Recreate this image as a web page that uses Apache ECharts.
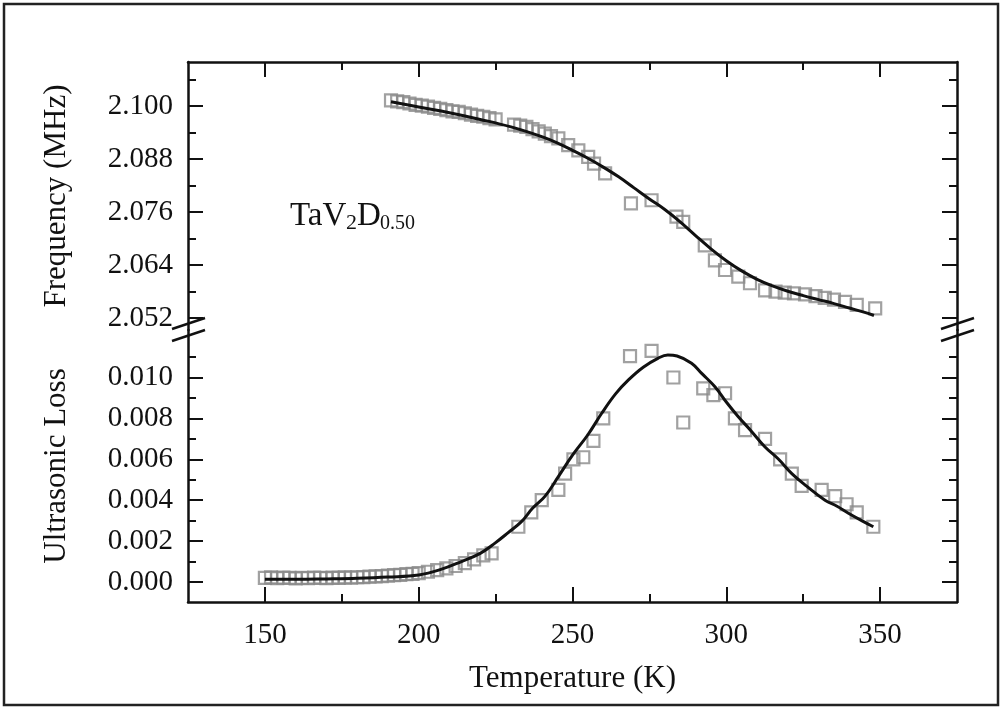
<!DOCTYPE html>
<html><head><meta charset="utf-8">
<script src="https://cdn.jsdelivr.net/npm/echarts@6/dist/echarts.min.js"></script>
<style>html,body{margin:0;padding:0;background:#fff}#c{width:1003px;height:709px}</style>
</head><body><div id="c"></div>
<script>
// ---- axis ticks ----
const xTicks = [150, 200, 250, 300, 350];
const xMinorTicks = [175, 225, 275, 325];
const freqTicks = [2.052, 2.064, 2.076, 2.088, 2.100];
const freqMinorTicks = [2.058, 2.070, 2.082, 2.094, 2.106];
const lossTicks = [0, 0.002, 0.004, 0.006, 0.008, 0.010];
const lossMinorTicks = [0.001, 0.003, 0.005, 0.007, 0.009, 0.011];

// ---- frequency data (squares) ----
const freqTemps = [191,193,195,197,199,201,203,205,207,209,211,213,215,217,219,221,223,225,231,233,235,237,239,241,243,245.4,248.6,251.9,255.1,257,260.6,269,275.7,283.8,286,293,296.3,299.6,303.9,307.7,312.6,316,319,322,325.6,329,332,335,338.6,342.4,348.4];
const freqValues = [2.1013,2.1011,2.1009,2.1006,2.1003,2.1001,2.0999,2.0996,2.0994,2.0991,2.0988,2.0987,2.0984,2.0981,2.0978,2.0976,2.0973,2.0970,2.0958,2.0956,2.0953,2.0948,2.0943,2.0938,2.0932,2.0927,2.0912,2.0900,2.0885,2.0870,2.0848,2.0780,2.0787,2.0750,2.0738,2.0685,2.0651,2.0629,2.0614,2.0599,2.0583,2.0580,2.0578,2.0576,2.0574,2.0570,2.0566,2.0562,2.0557,2.0550,2.0542];
// ---- frequency fit curve ----
const freqFitTemps = [191,200,210,220,230,240,245,250,255,260,265,270,275,280,285,290,295,300,305,310,315,320,325,330,335,340,345,348];
const freqFitValues = [2.1010,2.0998,2.0985,2.0970,2.0953,2.0931,2.0917,2.0900,2.0882,2.0862,2.0840,2.0815,2.0790,2.0766,2.0738,2.0707,2.0677,2.0650,2.0627,2.0608,2.0593,2.0581,2.0571,2.0562,2.0553,2.0543,2.0533,2.0526];

// ---- ultrasonic loss data (squares) ----
const lossTemps = [150,152,154,156,158,160,162,164,166,168,170,172,174,176,178,180,182,184,186,188,190,192,194,196,198,200,203,206,209,212,215,218,221,223.7,232.4,236.6,240,245.4,247.6,250.3,253.5,256.8,260,268.7,275.7,282.8,286,292.5,295.8,299.6,302.8,306.1,312.6,317.5,321.3,324.5,331,335.4,339.1,342.4,347.8];
const lossValues = [0.00020,0.00022,0.00019,0.00021,0.00020,0.00018,0.00020,0.00019,0.00021,0.00020,0.00019,0.00021,0.00020,0.00022,0.00021,0.00023,0.00024,0.00026,0.00027,0.00029,0.00031,0.00033,0.00035,0.00038,0.00040,0.00043,0.00050,0.00058,0.00066,0.00078,0.00092,0.0011,0.0013,0.0014,0.0027,0.0034,0.0040,0.0045,0.0053,0.0060,0.0061,0.0069,0.0080,0.01105,0.0113,0.0100,0.0078,0.00947,0.00914,0.00923,0.0080,0.00743,0.0070,0.0060,0.0053,0.0047,0.0045,0.0042,0.0038,0.0034,0.0027];
// ---- loss fit curve ----
const lossFitTemps = [150,160,170,180,190,200,207,213.9,220,224.8,229,233.4,237,241.1,245.4,250,255,259.5,264,268.2,273,277.9,281,284,288.7,292,296.3,300,303.9,308,312.6,317,321.3,326,332.1,336,339.7,344,347.8];
const lossFitValues = [0.00013,0.00013,0.00015,0.00018,0.00024,0.00034,0.00060,0.0010,0.0014,0.0019,0.0024,0.00295,0.0036,0.0042,0.00515,0.0062,0.0072,0.00825,0.0092,0.00988,0.0105,0.01095,0.0111,0.01105,0.0107,0.0102,0.00955,0.0088,0.00808,0.0074,0.0066,0.0060,0.0053,0.0047,0.0040,0.0037,0.00336,0.0030,0.0027];

const zip = (a, b) => a.map((v, i) => [v, b[i]]);

const FONT = 'Liberation Serif';
const INK = '#111';
const SQ = '#8a8a8a';

function axisBase(extra) {
  return Object.assign({
    type: 'value',
    axisLine: { show: true, onZero: false, lineStyle: { color: INK, width: 2.5 } },
    splitLine: { show: false },
    axisLabel: { show: false },
    axisTick: { show: true, inside: true, length: 15, lineStyle: { color: INK, width: 2 } }
  }, extra);
}
function majorX(grid, pos, labels, name) {
  return axisBase({
    gridIndex: grid, position: pos, min: 125, max: 375,
    axisTick: { show: true, inside: true, length: 15, customValues: xTicks, lineStyle: { color: INK, width: 2 } },
    axisLabel: labels ? { show: true, customValues: xTicks, margin: 19, fontFamily: FONT, fontSize: 29, color: INK } : { show: false },
    name: name || '', nameLocation: 'middle', nameGap: 61,
    nameTextStyle: { fontFamily: FONT, fontSize: 31, color: INK }
  });
}
function minorX(grid, pos) {
  return axisBase({
    gridIndex: grid, position: pos, min: 125, max: 375,
    axisLine: { show: false, onZero: false },
    axisTick: { show: true, inside: true, length: 8, customValues: xMinorTicks, lineStyle: { color: INK, width: 2 } }
  });
}
function majorY(grid, pos, min, max, ticks, labels, name) {
  return axisBase({
    gridIndex: grid, position: pos, min: min, max: max,
    axisTick: { show: true, inside: true, length: 15, customValues: ticks, lineStyle: { color: INK, width: 2 } },
    axisLabel: labels ? { show: true, customValues: ticks, margin: 15, fontFamily: FONT, fontSize: 29, color: INK,
      formatter: v => Number(v).toFixed(3) } : { show: false },
    name: name || '', nameLocation: 'middle', nameGap: 116, nameRotate: 90,
    nameTextStyle: { fontFamily: FONT, fontSize: 31, color: INK }
  });
}
function minorY(grid, pos, min, max, ticks) {
  return axisBase({
    gridIndex: grid, position: pos, min: min, max: max,
    axisLine: { show: false, onZero: false },
    axisTick: { show: true, inside: true, length: 8, customValues: ticks, lineStyle: { color: INK, width: 2 } }
  });
}

const FMIN = 2.04932, FMAX = 2.110;
const LMIN = -0.00098, LMAX = 0.012323;

const chart = echarts.init(document.getElementById('c'), null, { renderer: 'canvas' });
chart.setOption({
  backgroundColor: '#fff',
  animation: false,
  grid: [
    { left: 188, right: 46, top: 62, height: 268, containLabel: false, outerBoundsMode: 'none' },
    { left: 188, right: 46, top: 330, height: 272, containLabel: false, outerBoundsMode: 'none' }
  ],
  xAxis: [
    majorX(0, 'top', false),
    minorX(0, 'top'),
    majorX(1, 'bottom', true, 'Temperature (K)'),
    minorX(1, 'bottom')
  ],
  yAxis: [
    majorY(0, 'left', FMIN, FMAX, freqTicks, true, 'Frequency (MHz)'),
    minorY(0, 'left', FMIN, FMAX, freqMinorTicks),
    majorY(0, 'right', FMIN, FMAX, freqTicks, false),
    minorY(0, 'right', FMIN, FMAX, freqMinorTicks),
    majorY(1, 'left', LMIN, LMAX, lossTicks, true, 'Ultrasonic Loss'),
    minorY(1, 'left', LMIN, LMAX, lossMinorTicks),
    majorY(1, 'right', LMIN, LMAX, lossTicks, false),
    minorY(1, 'right', LMIN, LMAX, lossMinorTicks)
  ],
  series: [
    { type: 'scatter', xAxisIndex: 0, yAxisIndex: 0, data: zip(freqTemps, freqValues), symbol: 'rect', symbolSize: 12,
      itemStyle: { color: 'rgba(255,255,255,0)', borderColor: SQ, borderWidth: 2.2 }, z: 2 },
    { type: 'line', xAxisIndex: 0, yAxisIndex: 0, data: zip(freqFitTemps, freqFitValues), smooth: 0.4, showSymbol: false,
      lineStyle: { color: INK, width: 3 }, z: 3 },
    { type: 'scatter', xAxisIndex: 2, yAxisIndex: 4, data: zip(lossTemps, lossValues), symbol: 'rect', symbolSize: 12,
      itemStyle: { color: 'rgba(255,255,255,0)', borderColor: SQ, borderWidth: 2.2 }, z: 2 },
    { type: 'line', xAxisIndex: 2, yAxisIndex: 4, data: zip(lossFitTemps, lossFitValues), smooth: 0.4, showSymbol: false,
      lineStyle: { color: INK, width: 3 }, z: 3 }
  ],
  graphic: [
    { type: 'rect', shape: { x: 4, y: 4, width: 994, height: 701 }, style: { fill: 'none', stroke: '#222', lineWidth: 2.5 }, silent: true },
    { type: 'line', shape: { x1: 172, y1: 329, x2: 205, y2: 318 }, style: { stroke: INK, lineWidth: 2.5 }, z: 10 },
    { type: 'line', shape: { x1: 172, y1: 341, x2: 205, y2: 330 }, style: { stroke: INK, lineWidth: 2.5 }, z: 10 },
    { type: 'line', shape: { x1: 941, y1: 329, x2: 974, y2: 318 }, style: { stroke: INK, lineWidth: 2.5 }, z: 10 },
    { type: 'line', shape: { x1: 941, y1: 341, x2: 974, y2: 330 }, style: { stroke: INK, lineWidth: 2.5 }, z: 10 },
    { type: 'text', x: 290, y: 216, style: { text: 'TaV', font: '33px "Liberation Serif"', fill: INK, verticalAlign: 'middle', align: 'left' } },
    { type: 'text', x: 346, y: 223, style: { text: '2', font: '22px "Liberation Serif"', fill: INK, verticalAlign: 'middle', align: 'left' } },
    { type: 'text', x: 357, y: 216, style: { text: 'D', font: '33px "Liberation Serif"', fill: INK, verticalAlign: 'middle', align: 'left' } },
    { type: 'text', x: 380, y: 224, style: { text: '0.50', font: '20px "Liberation Serif"', fill: INK, verticalAlign: 'middle', align: 'left' } }
  ]
});
</script></body></html>
